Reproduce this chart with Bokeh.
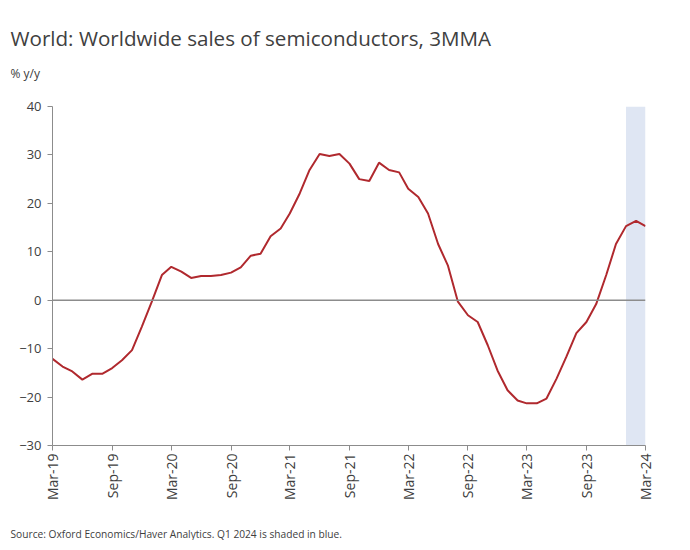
import math
import pandas as pd
from bokeh.plotting import figure
from bokeh.models import FixedTicker, DatetimeTickFormatter, Span, BoxAnnotation, Title, Range1d, ColumnDataSource
from bokeh.embed import file_html
from bokeh.resources import INLINE

# ---- data ----
first_month = "2019-03-01"
sales_3mma_yy = [
    -12.1, -13.7, -14.7, -16.4, -15.2, -15.2, -14.0, -12.4, -10.3, -5.5,
    -0.3, 5.2, 6.9, 5.9, 4.6, 5.0, 5.0, 5.2, 5.7, 6.8,
    9.2, 9.6, 13.2, 14.8, 17.9, 22.1, 26.9, 30.2, 29.8, 30.2,
    28.2, 25.0, 24.6, 28.4, 26.9, 26.4, 23.0, 21.3, 17.9, 11.6,
    7.2, -0.3, -3.1, -4.5, -9.3, -14.5, -18.6, -20.7, -21.3, -21.3,
    -20.3, -16.2, -11.7, -6.8, -4.5, -0.8, 5.2, 11.6, 15.3, 16.4,
    15.3,
]
x_tick_dates = ["2019-03-01", "2019-09-01", "2020-03-01", "2020-09-01", "2021-03-01",
                "2021-09-01", "2022-03-01", "2022-09-01", "2023-03-01", "2023-09-01",
                "2024-03-01"]
y_ticks = [-30, -20, -10, 0, 10, 20, 30, 40]
shade_start = "2024-01-01"
shade_end = "2024-03-01"

title_text = "World: Worldwide sales of semiconductors, 3MMA"
unit_text = "% y/y"
source_text = "Source: Oxford Economics/Haver Analytics. Q1 2024 is shaded in blue."

months = pd.date_range(first_month, periods=len(sales_3mma_yy), freq="MS")
src = ColumnDataSource(dict(month=months, value=sales_3mma_yy))

def ms(d):
    return pd.Timestamp(d).value / 1e6

FONT = "Open Sans"
TXT = "#404040"

p = figure(x_axis_type="datetime", output_backend="svg", toolbar_location=None,
           frame_width=593, frame_height=339,
           min_border_left=52, min_border_right=37, min_border_top=106, min_border_bottom=60,
           x_range=Range1d(ms(months[0]), ms(months[-1])), y_range=Range1d(-30, 40))
p.outline_line_color = None
p.xgrid.visible = False
p.ygrid.visible = False
p.background_fill_color = "white"
p.border_fill_color = "white"

p.add_layout(BoxAnnotation(left=ms(shade_start), right=ms(shade_end),
                           fill_color="#DFE6F3", fill_alpha=1.0, line_color=None, level="underlay"))
p.add_layout(Span(location=0, dimension="width", line_color="#8C8C8C", line_width=1.5))

p.line("month", "value", source=src, line_color="#B0292E", line_width=2)

p.xaxis.ticker = FixedTicker(ticks=[ms(d) for d in x_tick_dates])
p.xaxis.formatter = DatetimeTickFormatter(days="%b-%y", months="%b-%y", years="%b-%y")
p.xaxis.major_label_orientation = math.pi / 2
p.yaxis.ticker = FixedTicker(ticks=y_ticks)

for ax in (p.xaxis[0], p.yaxis[0]):
    ax.axis_line_color = "#8C8C8C"
    ax.axis_line_width = 1
    ax.major_tick_line_color = "#8C8C8C"
    ax.major_tick_in = 0
    ax.major_tick_out = 5
    ax.minor_tick_line_color = None
    ax.major_label_text_font = FONT
    ax.major_label_text_color = TXT
p.yaxis.major_label_text_font_size = "13px"
p.xaxis.major_label_text_font_size = "14px"
p.yaxis.major_label_standoff = 6
p.xaxis.major_label_standoff = 3

# titles (above panel: nearest the frame first; plot title outermost)
p.title.text = title_text
p.title.align = "left"
p.title.offset = -42
p.title.text_font = FONT
p.title.text_font_size = "20.6px"
p.title.text_font_style = "normal"
p.title.text_color = TXT
p.title.standoff = 21

p.add_layout(Title(text=" ", text_font_size="12px", standoff=9), "above")
p.add_layout(Title(text=unit_text, align="left", offset=-42, text_font=FONT,
                   text_font_size="12px", text_font_style="normal", text_color=TXT,
                   standoff=0), "above")

p.add_layout(Title(text=" ", text_font_size="12px", standoff=5), "below")
p.add_layout(Title(text=source_text, align="left", offset=-42, text_font=FONT,
                   text_font_size="10.2px", text_font_style="normal", text_color=TXT,
                   standoff=0), "below")

open("out.html", "w").write(file_html(p, INLINE))
